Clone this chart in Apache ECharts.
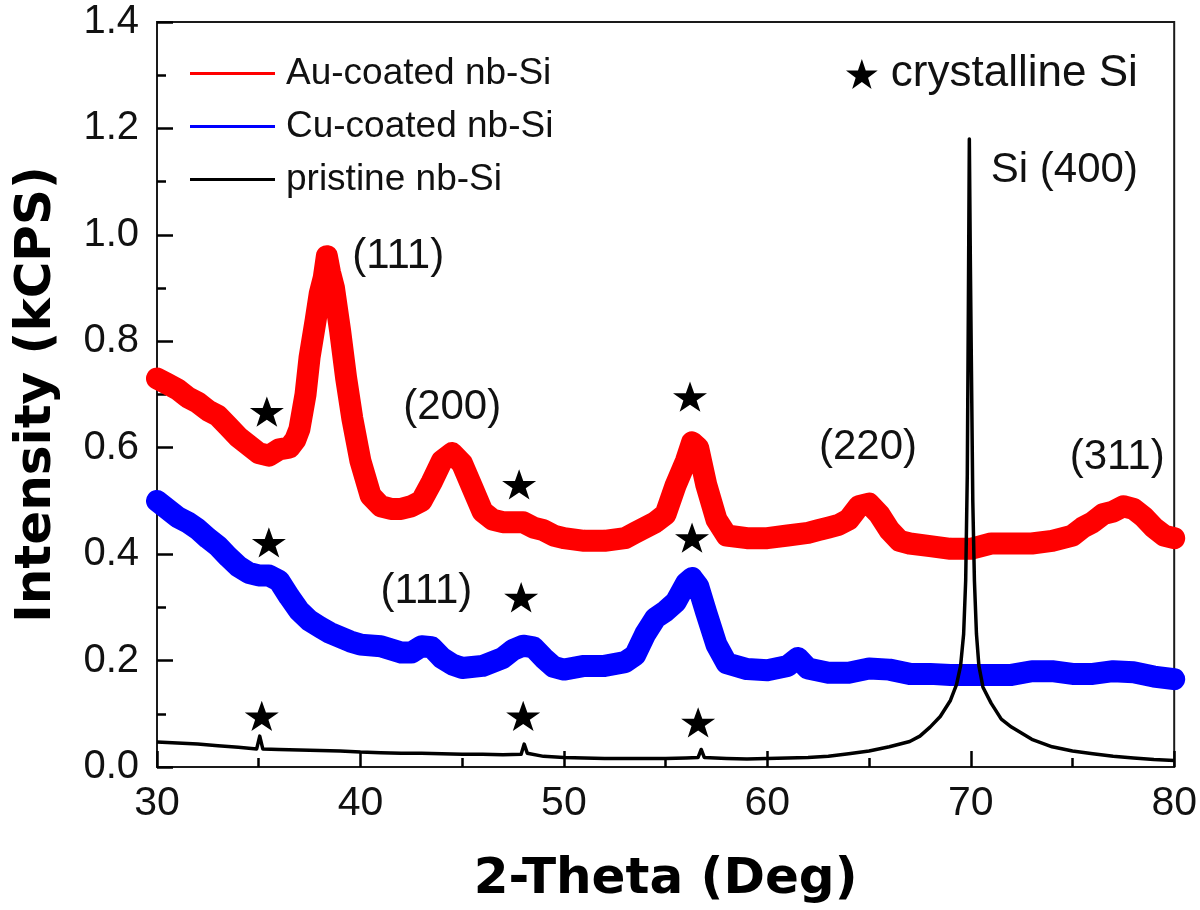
<!DOCTYPE html>
<html>
<head>
<meta charset="utf-8">
<script src="https://cdn.jsdelivr.net/npm/echarts@6/dist/echarts.min.js"></script>
<style>
html,body{margin:0;padding:0;background:#fff;}
#c{width:1200px;height:910px;}
</style>
</head>
<body>
<div id="c"></div>
<script>
// ---- data ----
const auX = [30,30.5,31,31.5,32,32.5,33,33.5,34,34.5,35,35.5,36,36.5,36.8,37,37.3,37.5,37.8,38,38.2,38.35,38.5,38.7,39,39.3,39.6,40,40.5,41,41.5,42,42.5,43,43.5,44,44.5,45,45.5,46,46.5,47,47.5,48,48.5,49,49.5,50,51,52,53,53.5,54,54.5,55,55.5,56,56.3,56.6,57,57.5,58,59,60,61,62,62.5,63,63.5,64,64.5,65,65.5,66,66.5,67,68,69,70,71,72,73,74,75,75.5,76,76.5,77,77.5,78,78.5,79,79.5,80];
const auY = [0.73,0.72,0.71,0.695,0.685,0.67,0.66,0.64,0.62,0.605,0.59,0.585,0.597,0.60,0.615,0.635,0.70,0.77,0.84,0.89,0.92,0.96,0.93,0.90,0.82,0.73,0.655,0.575,0.51,0.49,0.485,0.485,0.49,0.50,0.535,0.575,0.59,0.57,0.525,0.48,0.465,0.46,0.46,0.46,0.45,0.445,0.435,0.43,0.425,0.425,0.43,0.44,0.45,0.46,0.475,0.53,0.575,0.61,0.60,0.53,0.465,0.435,0.43,0.43,0.435,0.44,0.445,0.45,0.455,0.465,0.49,0.495,0.475,0.445,0.425,0.42,0.415,0.41,0.41,0.42,0.42,0.42,0.425,0.435,0.45,0.46,0.475,0.48,0.49,0.485,0.47,0.45,0.435,0.43];

const cuX = [30,30.5,31,31.5,32,32.5,33,33.5,34,34.5,35,35.5,36,36.5,37,37.5,38,38.5,39,39.5,40,41,42,42.5,43,43.5,44,44.5,45,46,47,47.5,48,48.5,49,49.5,50,51,52,53,53.5,54,54.5,55,55.5,56,56.3,56.6,57,57.5,58,59,60,61,61.5,62,63,64,65,66,67,68,69,70,71,72,73,74,75,76,77,78,79,80];
const cuY = [0.50,0.485,0.47,0.46,0.447,0.43,0.415,0.395,0.377,0.365,0.36,0.36,0.35,0.32,0.293,0.275,0.263,0.252,0.244,0.236,0.23,0.227,0.215,0.215,0.227,0.225,0.205,0.193,0.186,0.19,0.205,0.22,0.228,0.225,0.205,0.188,0.183,0.19,0.19,0.197,0.21,0.25,0.28,0.293,0.31,0.345,0.355,0.34,0.29,0.23,0.195,0.184,0.182,0.19,0.205,0.185,0.177,0.177,0.185,0.183,0.175,0.175,0.173,0.173,0.173,0.173,0.18,0.18,0.175,0.175,0.18,0.178,0.17,0.165];

const prX = [30,31,32,33,34,34.9,35.05,35.2,36,37,38,39,40,41,42,43,44,45,46,47,47.9,48.05,48.2,49,50,51,52,53,54,55,56,56.6,56.75,56.9,58,59,60,61,62,63,64,65,66,67,67.5,68,68.5,69,69.3,69.5,69.65,69.75,69.83,69.88,69.93,69.98,70.03,70.1,70.18,70.28,70.4,70.6,71,71.5,72,73,74,75,76,77,78,79,80];
const prY = [0.047,0.045,0.043,0.04,0.037,0.034,0.058,0.034,0.033,0.032,0.031,0.03,0.028,0.027,0.026,0.026,0.025,0.024,0.024,0.023,0.024,0.043,0.026,0.02,0.018,0.017,0.016,0.016,0.016,0.016,0.017,0.018,0.033,0.018,0.016,0.015,0.016,0.017,0.018,0.02,0.025,0.03,0.038,0.048,0.058,0.075,0.095,0.125,0.155,0.19,0.25,0.35,0.55,0.85,1.18,0.95,0.76,0.5,0.35,0.25,0.19,0.15,0.12,0.09,0.075,0.052,0.038,0.03,0.025,0.02,0.017,0.014,0.012];

const starX = [35.4,47.8,56.2,35.5,47.9,56.3,35.15,48.0,56.6];
const starY = [0.668,0.531,0.696,0.422,0.319,0.431,0.096,0.096,0.084];

const annText = ['(111)','(200)','(220)','(311)','Si (400)','(111)'];
const annX = [41.86,44.51,64.95,77.2,74.6,43.24];
const annY = [0.959,0.675,0.600,0.582,1.122,0.330];

const xTicks = [30,40,50,60,70,80];
const yTicks = [0.0,0.2,0.4,0.6,0.8,1.0,1.2,1.4];
const seriesNames = ['Au-coated nb-Si','Cu-coated nb-Si','pristine nb-Si','crystalline Si'];

// ---- chart ----
const zip = (xs, ys) => xs.map((x, i) => [x, ys[i]]);
const STAR = 'path://M50,0 L61.8,35.1 L98.1,35.1 L68.8,56.8 L79.4,91 L50,70 L20.6,91 L31.2,56.8 L1.9,35.1 L38.2,35.1 Z';
const FONT = '"Liberation Sans", Arial, sans-serif';
const AX = '#1a1a1a';
const xMin = xTicks[0], xMax = xTicks[xTicks.length - 1];
const yMin = yTicks[0], yMax = yTicks[yTicks.length - 1];

function mainAxis() {
  return {
    axisLine: {show: true, lineStyle: {color: AX, width: 2}},
    axisTick: {show: true, inside: true, length: 16, lineStyle: {color: '#000', width: 2.5}},
    minorTick: {show: true, splitNumber: 2, length: 9, lineStyle: {color: '#000', width: 2.5}},
    splitLine: {show: false},
    minorSplitLine: {show: false}
  };
}
// overlay axis that only draws the long major ticks (no labels, no line)
function tickAxis() {
  return {
    axisLine: {show: false},
    axisLabel: {show: false},
    axisTick: {show: true, inside: true, length: 16, lineStyle: {color: '#000', width: 2.5}},
    minorTick: {show: false},
    splitLine: {show: false}
  };
}

const chart = echarts.init(document.getElementById('c'), null, {renderer: 'canvas'});
chart.setOption({
  animation: false,
  backgroundColor: '#fff',
  grid: {left: 157, right: 25, top: 22, bottom: 142, containLabel: false,
         show: true, borderColor: AX, borderWidth: 2, backgroundColor: 'transparent'},
  xAxis: [
    Object.assign(mainAxis(), {
      type: 'value', min: xMin, max: xMax, interval: 10,
      name: '2-Theta (Deg)', nameLocation: 'middle', nameGap: 88,
      nameTextStyle: {fontSize: 50, fontWeight: 'bold', fontFamily: '"DejaVu Sans", sans-serif', color: '#000'},
      axisLabel: {fontSize: 41, fontFamily: FONT, color: '#111', margin: 16}
    }),
    Object.assign(tickAxis(), {type: 'value', min: xMin, max: xMax, interval: 10, position: 'bottom'})
  ],
  yAxis: [
    Object.assign(mainAxis(), {
      type: 'value', min: yMin, max: yMax, interval: 0.2,
      name: 'Intensity (kCPS)', nameLocation: 'middle', nameGap: 95,
      nameTextStyle: {fontSize: 50, fontWeight: 'bold', fontFamily: '"DejaVu Sans", sans-serif', color: '#000'},
      axisLabel: {fontSize: 40, fontFamily: FONT, color: '#111', margin: 18,
                  formatter: v => v.toFixed(1)}
    }),
    Object.assign(tickAxis(), {type: 'value', min: yMin, max: yMax, interval: 0.2, position: 'left'})
  ],
  legend: [{
    data: seriesNames.slice(0, 3),
    orient: 'vertical', left: 190, top: 55, padding: 0,
    itemWidth: 85, itemHeight: 3, itemGap: 16, icon: 'rect',
    textStyle: {fontSize: 37, fontFamily: FONT, color: '#111', padding: [0, 0, 0, 6]}
  }, {
    data: [{name: seriesNames[3], icon: STAR}],
    left: 846, top: 52, padding: 0,
    itemWidth: 32, itemHeight: 30,
    textStyle: {fontSize: 44, fontFamily: FONT, color: '#111', padding: [0, 0, 0, 8]}
  }],
  series: [
    {name: seriesNames[0], type: 'line', data: zip(auX, auY), showSymbol: false, symbol: 'none',
     color: '#ff0000', lineStyle: {color: '#ff0000', width: 22, join: 'round', cap: 'round'}, z: 2},
    {name: seriesNames[1], type: 'line', data: zip(cuX, cuY), showSymbol: false, symbol: 'none',
     color: '#0000ff', lineStyle: {color: '#0000ff', width: 22, join: 'round', cap: 'round'}, z: 3},
    {name: seriesNames[2], type: 'line', data: zip(prX, prY), showSymbol: false, symbol: 'none',
     color: '#000', lineStyle: {color: '#000', width: 3.5, join: 'round'}, z: 4},
    {name: seriesNames[3], type: 'scatter', data: zip(starX, starY), symbol: STAR,
     symbolSize: [34, 32], symbolKeepAspect: true, itemStyle: {color: '#000', opacity: 1}, z: 5, silent: true},
    {name: 'labels', type: 'scatter', symbolSize: 0, silent: true, z: 6,
     itemStyle: {opacity: 1},
     data: annText.map((t, i) => ({value: [annX[i], annY[i]], name: t})),
     label: {show: true, position: 'inside', formatter: p => p.name, opacity: 1,
             fontSize: 42, fontFamily: FONT, color: '#111'}}
  ]
});
</script>
</body>
</html>
